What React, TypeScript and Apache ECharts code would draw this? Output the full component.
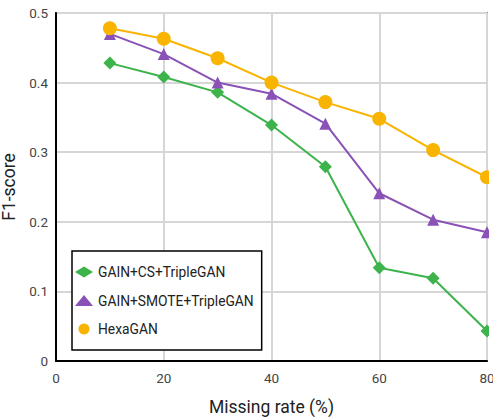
import React, { useEffect, useRef } from "react";
import * as echarts from "echarts";

const missingRates = [10, 20, 30, 40, 50, 60, 70, 80];
const gainCs = [0.428, 0.408, 0.386, 0.339, 0.279, 0.134, 0.119, 0.043];
const gainSmote = [0.47, 0.441, 0.4, 0.384, 0.341, 0.241, 0.203, 0.185];
const hexaGan = [0.478, 0.463, 0.435, 0.4, 0.372, 0.348, 0.303, 0.264];
const seriesNames = ["GAIN+CS+TripleGAN", "GAIN+SMOTE+TripleGAN", "HexaGAN"];

const pair = (vals: number[]) => missingRates.map((x, i) => [x, vals[i]]);

export default function App() {
  const ref = useRef<HTMLDivElement>(null);
  useEffect(() => {
    if (!ref.current) return;
    const chart = echarts.init(ref.current, undefined, { renderer: "svg" });
    const font = "Roboto";
    chart.setOption({
      animation: false,
      textStyle: { fontFamily: font },
      grid: {
        left: 56,
        right: 6,
        top: 13,
        bottom: 56,
        outerBoundsMode: "none",
        containLabel: false,
        show: true,
        borderColor: "#333",
        borderWidth: 1.5,
        backgroundColor: "transparent",
      },
      xAxis: {
        type: "value",
        min: 0,
        max: 80,
        interval: 20,
        name: "Missing rate (%)",
        nameLocation: "middle",
        nameGap: 37,
        nameTextStyle: { fontSize: 17.5, color: "#222", fontFamily: font },
        axisLine: { show: true, lineStyle: { color: "#000", width: 2 } },
        axisTick: { show: false },
        axisLabel: { fontSize: 13.5, color: "#444", margin: 10, fontFamily: font },
        splitLine: { show: true, lineStyle: { color: "#d6d6d6", width: 2 } },
      },
      yAxis: {
        type: "value",
        min: 0,
        max: 0.5,
        interval: 0.1,
        name: "F1-score",
        nameLocation: "middle",
        nameGap: 29,
        nameTextStyle: { fontSize: 17.5, color: "#222", fontFamily: font },
        axisLine: { show: true, lineStyle: { color: "#000", width: 2 } },
        axisTick: { show: false },
        axisLabel: { fontSize: 13.5, color: "#444", margin: 8, fontFamily: font },
        splitLine: { show: true, lineStyle: { color: "#d6d6d6", width: 2 } },
      },
      legend: {
        orient: "vertical",
        left: 72,
        top: 251,
        width: 191,
        backgroundColor: "#fff",
        borderColor: "#000",
        borderWidth: 1.5,
        borderRadius: 0,
        padding: [14, 8, 14, 3],
        itemGap: 14.5,
        itemWidth: 18,
        itemHeight: 11,
        textStyle: { fontSize: 13.8, color: "#222", fontFamily: font },
        data: [
          { name: seriesNames[0], icon: "diamond" },
          { name: seriesNames[1], icon: "triangle" },
          { name: seriesNames[2], icon: "circle" },
        ],
      },
      series: [
        {
          name: seriesNames[0],
          type: "line",
          data: pair(gainCs),
          symbol: "diamond",
          symbolSize: 13,
          color: "#3cb34b",
          lineStyle: { width: 2 },
          z: 3,
        },
        {
          name: seriesNames[1],
          type: "line",
          data: pair(gainSmote),
          symbol: "triangle",
          symbolSize: 12,
          color: "#8a52b6",
          lineStyle: { width: 2 },
          z: 4,
        },
        {
          name: seriesNames[2],
          type: "line",
          data: pair(hexaGan),
          symbol: "circle",
          symbolSize: 14,
          color: "#f8b400",
          lineStyle: { width: 2 },
          z: 5,
        },
      ],
      graphic: [
        {
          type: "rect",
          left: 489,
          top: 0,
          shape: { width: 10, height: 365 },
          style: { fill: "#fff" },
          z: 100,
        },
      ],
    });
    return () => chart.dispose();
  }, []);
  return <div ref={ref} style={{ width: 493, height: 417, position: "absolute", left: 0, top: 0 }} />;
}
